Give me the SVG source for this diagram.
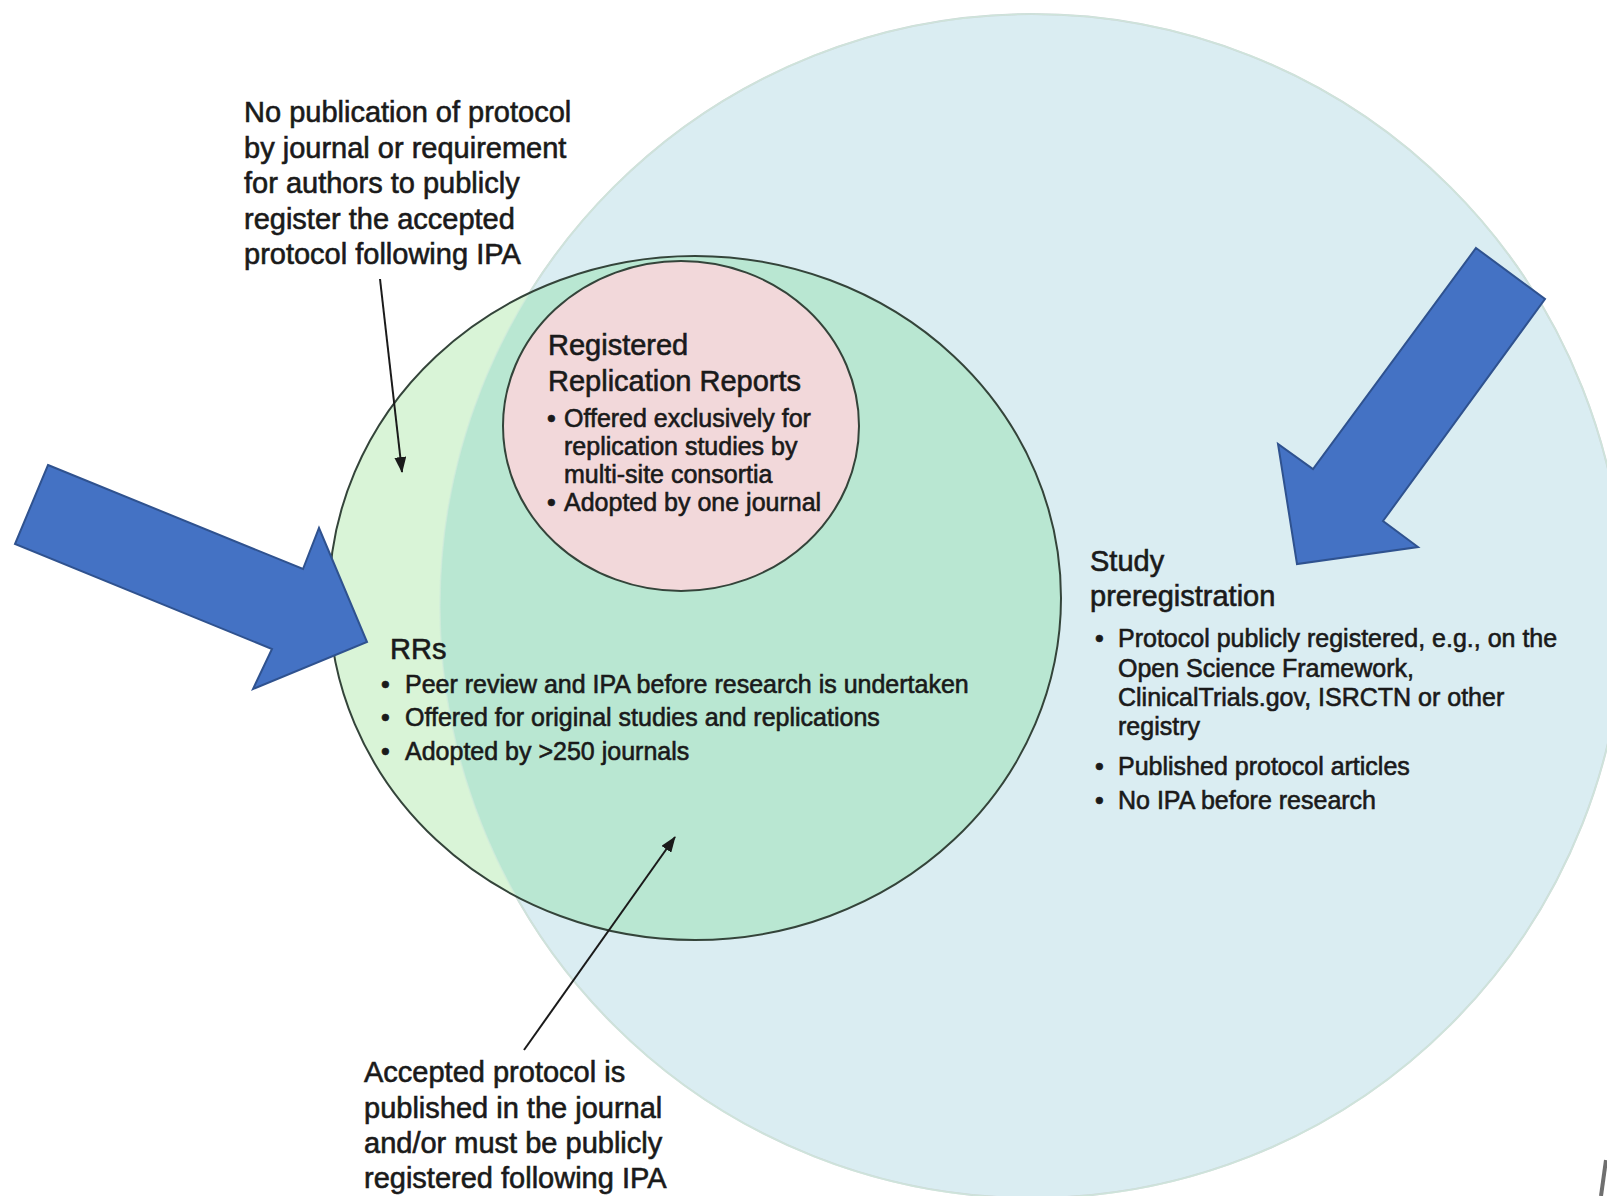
<svg xmlns="http://www.w3.org/2000/svg" width="1607" height="1196" viewBox="0 0 1607 1196">
  <style>
    text { font-family: "Liberation Sans", Arial, sans-serif; fill: #1a1a1a; stroke: #1a1a1a; stroke-width: 0.6; }
    .big { font-size: 29px; }
    .small { font-size: 25px; }
    .outline { stroke: #34443a; stroke-width: 2; }
    .conn { stroke: #1a1a1a; stroke-width: 2; fill: none; }
    .bluearrow { fill: #4472c4; stroke: #2f528f; stroke-width: 2; stroke-linejoin: miter; }
  </style>
  <defs>
    <marker id="ah" markerWidth="16" markerHeight="12" refX="15" refY="6" orient="auto" markerUnits="userSpaceOnUse">
      <path d="M0,0 L16,6 L0,12 z" fill="#1a1a1a"/>
    </marker>
    <clipPath id="blueClip">
      <circle cx="1032" cy="606" r="592"/>
    </clipPath>
  </defs>
  <rect width="1607" height="1196" fill="#ffffff"/>

  <g id="study-preregistration-circle">
    <circle cx="1032" cy="606" r="592" fill="#daedf2" stroke="#cdd5d8" stroke-width="2"/>
  </g>

  <g id="rrs-circle">
    <ellipse cx="695" cy="598" rx="366" ry="342" fill="#d9f4d7"/>
    <ellipse cx="695" cy="598" rx="366" ry="342" fill="#b9e7d2" clip-path="url(#blueClip)"/>
    <circle cx="1032" cy="606" r="592" fill="none" stroke="#cfe9dc" stroke-width="1.5" opacity="0.7"/>
    <ellipse cx="695" cy="598" rx="366" ry="342" fill="none" class="outline"/>
  </g>

  <g id="rrr-circle">
    <ellipse cx="681" cy="426" rx="178" ry="165" fill="#f2d8da" class="outline"/>
  </g>

  <g id="rrr-label">
    <text class="big" x="548" y="355">Registered</text>
    <text class="big" x="548" y="391">Replication Reports</text>
    <text class="small" x="547" y="427">•</text>
    <text class="small" x="564" y="427">Offered exclusively for</text>
    <text class="small" x="564" y="455">replication studies by</text>
    <text class="small" x="564" y="483">multi-site consortia</text>
    <text class="small" x="547" y="511">•</text>
    <text class="small" x="564" y="511">Adopted by one journal</text>
  </g>

  <g id="rrs-label">
    <text class="big" x="390" y="659">RRs</text>
    <text class="small" x="381" y="693">•</text>
    <text class="small" x="405" y="693">Peer review and IPA before research is undertaken</text>
    <text class="small" x="381" y="726">•</text>
    <text class="small" x="405" y="726">Offered for original studies and replications</text>
    <text class="small" x="381" y="760">•</text>
    <text class="small" x="405" y="760">Adopted by &gt;250 journals</text>
  </g>

  <g id="prereg-label">
    <text class="big" x="1090" y="571">Study</text>
    <text class="big" x="1090" y="606">preregistration</text>
    <text class="small" x="1095" y="647">•</text>
    <text class="small" x="1118" y="647">Protocol publicly registered, e.g., on the</text>
    <text class="small" x="1118" y="677">Open Science Framework,</text>
    <text class="small" x="1118" y="706">ClinicalTrials.gov, ISRCTN or other</text>
    <text class="small" x="1118" y="735">registry</text>
    <text class="small" x="1095" y="775">•</text>
    <text class="small" x="1118" y="775">Published protocol articles</text>
    <text class="small" x="1095" y="809">•</text>
    <text class="small" x="1118" y="809">No IPA before research</text>
  </g>

  <g id="note-top">
    <text class="big" x="244" y="122">No publication of protocol</text>
    <text class="big" x="244" y="157.5">by journal or requirement</text>
    <text class="big" x="244" y="193">for authors to publicly</text>
    <text class="big" x="244" y="228.5">register the accepted</text>
    <text class="big" x="244" y="264">protocol following IPA</text>
  </g>

  <g id="note-bottom">
    <text class="big" x="364" y="1082">Accepted protocol is</text>
    <text class="big" x="364" y="1118">published in the journal</text>
    <text class="big" x="364" y="1153">and/or must be publicly</text>
    <text class="big" x="364" y="1188">registered following IPA</text>
  </g>

  <g id="connectors">
    <line class="conn" x1="380" y1="279" x2="402" y2="472" marker-end="url(#ah)"/>
    <line class="conn" x1="524" y1="1050" x2="675" y2="837" marker-end="url(#ah)"/>
  </g>

  <g id="blue-arrows">
    <polygon id="arrow-left" class="bluearrow" points="48,465 303,569 319,528 367,642 253,689 272,649 15,544"/>
    <polygon id="arrow-right" class="bluearrow" points="1476,248 1545,299 1383,521 1418,547 1297,564 1278,444 1313,469"/>
  </g>

  <line x1="1606" y1="1160" x2="1601" y2="1196" stroke="#6f6f6f" stroke-width="4"/>
</svg>
